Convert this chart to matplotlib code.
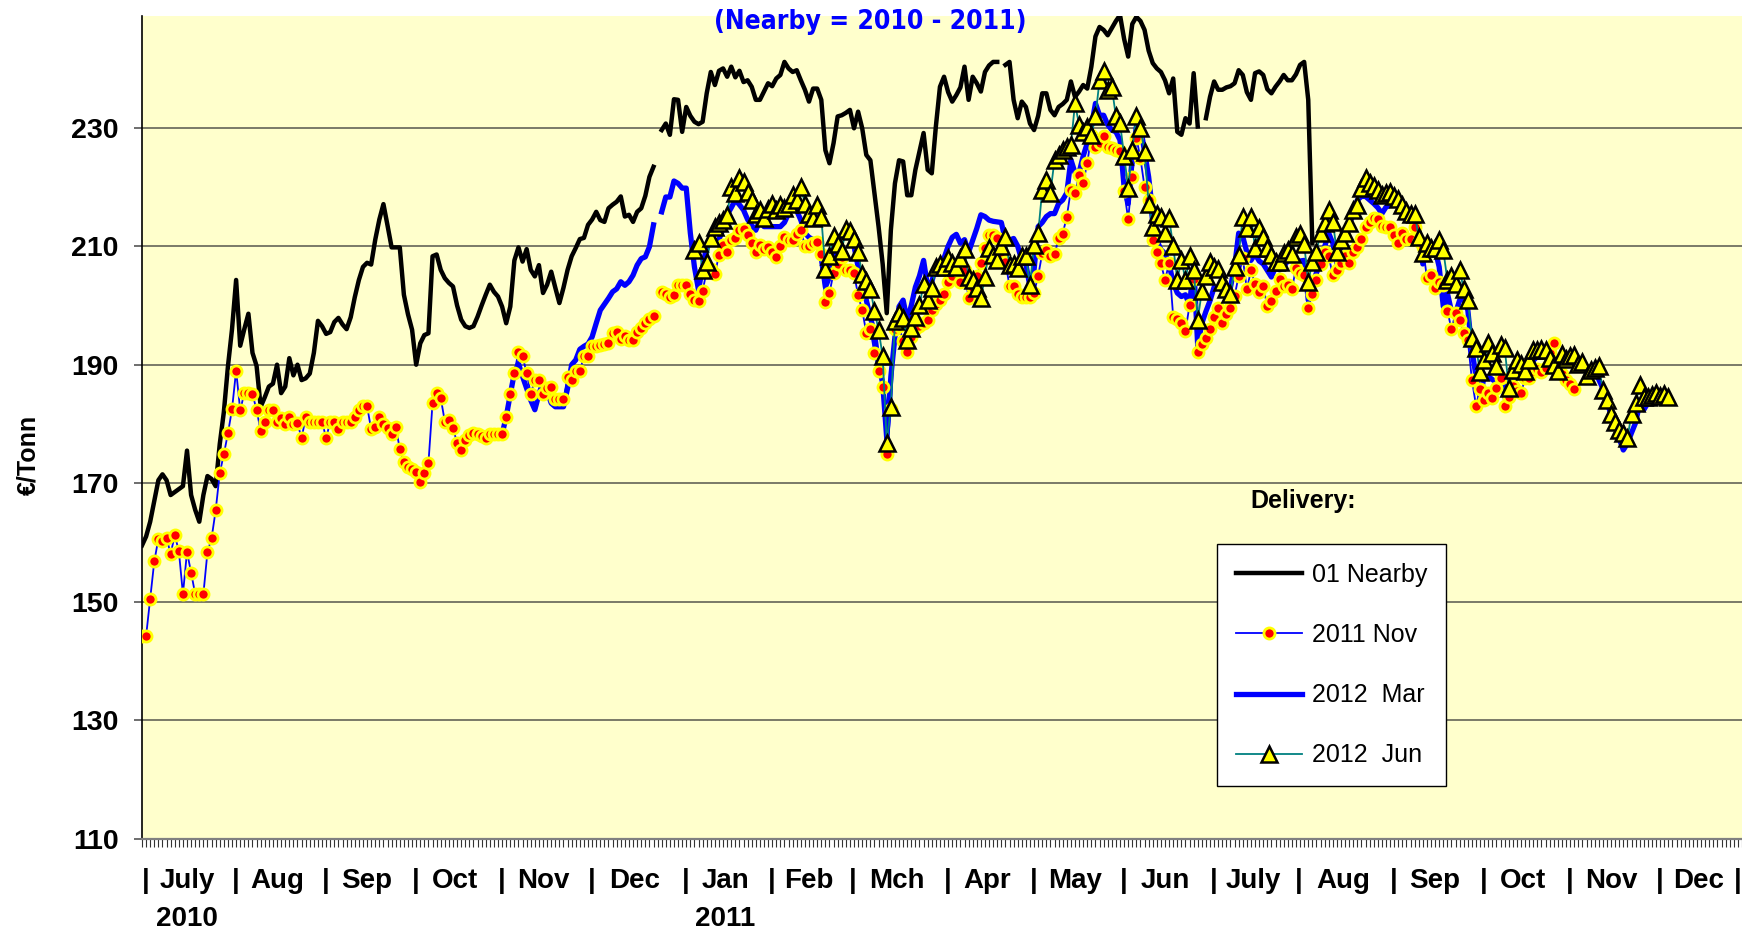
import numpy as np
import pandas as pd
import matplotlib
matplotlib.use('Agg')
import matplotlib.pyplot as plt
from matplotlib.lines import Line2D
from matplotlib.transforms import blended_transform_factory

nan = np.nan

# ---------------- data ----------------
calendar_start = '2010-07-01'
calendar_end = '2011-12-30'

nearby_start = '2010-07-01'
nearby = [
    159.5, 161, 163.5, 167, 170.5, 171.5, 170.5, 168, 168.5, 169, 169.5, 175.5, 168, 165.5, 163.5, 168, 171.2, 170.7, 169.5, 176.6, 182, 189.7,
    196, 204.3, 193.2, 196, 198.6, 192, 189.8, 182.9, 184.5, 186.3, 186.8, 190, 185.2, 186.3, 191.1, 188.2, 190, 187.4, 187.7, 188.5, 192, 197.4,
    196.5, 195.2, 195.5, 197.2, 197.9, 196.8, 196, 198, 201.4, 204.3, 206.5, 207.2, 206.9, 211.1, 214.5, 217.1, 213.5, 209.8, 209.8, 209.8, 201.8, 198.5,
    195.9, 190, 193.6, 195, 195.3, 208.3, 208.6, 206, 204.6, 203.8, 203.2, 200, 197.6, 196.5, 196.2, 196.5, 198.1, 200, 201.8, 203.5, 202.3,
    201.5, 199.8, 197, 199.8, 207.6, 209.8, 207.4, 209.5, 206, 204.9, 206.8, 202.1, 203.5, 205.7, 203, 200.4, 203, 206, 208.3, 209.7, 211.2, 211.4,
    213.6, 214.5, 215.8, 214.4, 214.1, 216.4, 217, 217.5, 218.4, 215, 215.3, 214.1, 215.8, 216.4, 218.5, 221.7, 223.4, nan, 229.6, 230.7, 228.8, 234.8, 234.7,
    229.3, 233.5, 232, 231, 230.6, 231, 235.8, 239.4, 237.2, 239.6, 240, 238.6, 240.3, 238.5, 239.6, 237.7, 238, 236.9, 234.7, 234.7, 236.1,
    237.5, 237, 238.3, 238.9, 241.1, 240, 239.4, 239.7, 238, 236.4, 234.4, 236.6, 236.6, 234.7, 226.2, 224, 227.4, 231.9, 232.1, 232.5,
    233, 229.9, 232.7, 229.9, 225.4, 224.5, 218.9, 213.3, 207, 198.7, 212.7, 220.6, 224.5, 224.3, 218.6, 218.6, 222.9, 226, 229.1, 222.9, 222.3, 230.2, 236.9,
    238.6, 236, 234.4, 235.5, 236.8, 240.3, 234.7, 238.6, 237.5, 236.1, 239.4, 240.5, 241.1, 241.1, nan, 240.6, 241.1, 234.7, 231.6, 234.4, 233.5,
    230.7, 229.6, 232, 235.8, 235.8, 233, 232.1, 233.5, 234, 234.7, 237.8, 235.2, 236.1, 237.2, 236.6, 240.3, 245.4, 247, 246.5, 245.6, 246.8, 248,
    249, 245, 242, 247.5, 248.7, 248, 246.5, 243, 240.9, 240, 239.4, 238, 235.8, 238.3, 229.3, 228.8, 231.6, 230.7, 239.2, 230.2, nan, 231.6,
    235.2, 237.8, 236.4, 236.4, 236.8, 237, 237.5, 239.7, 238.9, 236, 234.7, 239.2, 239.5, 238.9, 236.5, 235.8, 236.9, 237.8, 238.9, 238, 238,
    239, 240.6, 241.1, 234.7, 210.5,
]

nov11_start = '2010-07-01'
nov11 = [
    144.2, 144.2, 150.5, 156.8, 160.6, 160.3, 160.7, 158.1, 161.2, 158.6, 151.3, 158.4, 154.9, 151.3, 151.3, 151.3, 158.4, 160.7, 165.4, 171.7, 174.9, 178.4,
    182.5, 189, 182.3, 185.2, 185.2, 185, 182.4, 178.8, 180.3, 182.3, 182.3, 180.3, 181, 180, 181.1, 180, 180.1, 177.6, 181.1, 180.4, 180.4, 180.4,
    180.4, 177.6, 180.4, 180.4, 179.1, 180.3, 180.4, 180.4, 181.1, 182.3, 183, 183, 179.1, 179.5, 181.1, 180, 179.3, 178.3, 179.5, 175.8, 173.5, 172.8,
    172.4, 171.9, 170.2, 171.8, 173.4, 183.5, 185.2, 184.4, 180.4, 180.6, 179.3, 176.8, 175.6, 177.3, 178.2, 178.5, 178.3, 178, 177.6, 178.3, 178.3,
    178.3, 178.3, 181.2, 185, 188.6, 192.2, 191.4, 188.6, 185.1, 187.4, 187.5, 185.1, 186.1, 186.2, 184.2, 184.2, 184.2, 187.9, 187.4, 188.9, 189, 191.4,
    191.4, 193.1, 193.2, 193.4, 193.5, 193.6, 195.4, 195.5, 194.3, 194.8, 194.2, 194.2, 195.6, 196.2, 197, 197.7, 198.2, nan, 202.3, 201.9, 201.5, 201.7, 203.5,
    203.5, 203.5, 202, 200.9, 200.8, 202.4, 205.9, 206.2, 205.3, 208.5, 210.2, 209.1, 211, 211.4, 212.8, 212.9, 211.9, 210.5, 209, 210.2, 209.5,
    209.8, 209, 208.2, 210, 211.5, 211, 211.1, 212, 212.8, 210, 210, 210.5, 210.7, 208.6, 200.5, 202.1, 205.5, 207, 208.2, 206,
    206, 205.4, 201.7, 199.2, 195.4, 196, 191.9, 189, 186.3, 174.9, 182.5, 196, 196.5, 194, 192.2, 194.7, 196, 196.5, 197, 197.6, 199.2, 200.3, 201,
    202, 204, 205, 206, 204, 206, 201.2, 203, 205, 207.1, 209.7, 211.9, 211.9, 211.3, 209, 207.4, 203.2, 203.2, 202, 201.5, 201.5,
    201.5, 202.1, 205, 208.8, 209.3, 208.3, 208.6, 211.3, 212.1, 215, 219.5, 218.9, 222, 220.7, 224, 228.8, 226.8, 227.5, 228.6, 226.8, 226.5, 226.2,
    226, 219.3, 214.6, 221.7, 228.3, 224.8, 220, 217.8, 211.1, 209.1, 207.1, 204.3, 207.1, 198.1, 197.7, 197, 195.7, 200.1, 204.4, 192.2, 193.5, 194.5,
    196, 198.1, 199.6, 197, 198.5, 199.6, 201.6, 205, 208, 202.7, 205.9, 203.6, 202.2, 203.2, 199.9, 200.8, 202.4, 204.5, 203.3, 203.5, 202.7,
    206.3, 205.5, 205.1, 199.5, 202, 204.3, 207, 209, 208.3, 205.1, 206, 207.1, 208.3, 207.1, 209, 209.9, 211.2, 213.3, 214, 214.7, 214.6, 213.4, 213.3,
    213.3, 211.9, 210.5, 212.2, 211.2, 211.2, 213.3, 210.8, 209.8, 204.7, 205.1, 203, 203.9, 203.4, 199.1, 196, 198.7, 197.5, 195.4, 194.1, 187.4, 183.1,
    185.9, 184, 185.2, 184.3, 186, 187.7, 183.1, 184.5, 186.4, 185.5, 185.2, 187.7, 187.7, 189, 189.3, 188.7, 189.5, 192, 193.7, 190, 188.5,
    187.5, 186.7, 185.9,
]

mar12_start = '2010-11-01'
mar12 = [
    178.3, 178.3, 181.2, 185, 188.6, 190.2, 188, 186, 184, 182.4, 185, 187.2, 185.5, 183.5, 182.9, 182.9, 182.9, 186, 190, 190.8, 192.6, 193.1,
    193.5, 194.7, 197, 199.2, 200.2, 201.2, 202.3, 202.8, 204, 203.4, 204, 205.1, 206.8, 207.9, 208.2, 209.9, 213.6, nan, 215.8, 218.3, 218.3, 221, 220.6,
    219.8, 219.8, 212.2, 206.5, 202.6, 206.5, 210, 210.5, 210.8, 211.1, 213, 215.3, 216.5, 217.8, 217, 216.1, 214.5, 213.5, 212.7, 214.4, 213.3,
    213.3, 213.3, 213.3, 213.3, 214, 215.5, 216.6, 216, 214.4, 212.2, 211.5, 211.1, 211, 208, 203.1, 204.8, 208, 211.1, 212, 212.7,
    212.2, 210, 206.5, 204, 200.9, 198, 195.3, 190, 186.9, 177.5, 188, 194.7, 199.8, 200.9, 197.5, 200, 203.1, 205, 207.6, 203.1, 204, 206.5, 207,
    208, 210, 211.5, 212, 210.5, 211.1, 209, 211, 213, 215.3, 215, 214.4, 214.2, 214.1, 214, 211, 211, 211.3, 210, 207.6, 207,
    203.1, 206, 213.3, 214, 215, 215.5, 215.5, 217.2, 217.8, 219, 224.6, 222.4, 222.4, 225.2, 227.4, 230.2, 234.1, 232.1, 232.1, 230.5, 229.6, 229.3,
    227.9, 220, 217.2, 225, 230.2, 230.2, 226, 221.7, 215.5, 211, 209.4, 208.8, 207, 203.8, 202.1, 201.5, 201.8, 200, 207, 193, 197, 199,
    200.8, 203.1, 203, 202.5, 202.8, 203.1, 206.5, 212.2, 211.6, 209, 207.6, 208.7, 207.5, 207, 205.9, 204.8, 206.5, 206, 206.5, 207.6, 207.6,
    207.6, 207.5, 207.6, 200.9, 203.6, 205.5, 207.6, 209.9, 212.2, 210.5, 207, 209.9, 212.2, 213.5, 215.5, 217.8, 218.4, 218.4, 217.8, 217.2, 216.5, 215.5, 216.6,
    216.9, 217.2, 217.2, 217, 216.5, 216, 215, 213.3, 207, 208.8, 209, 209.4, 206.5, 199.8, 202.1, 199, 198.7, 200.9, 201, 199.2, 192.5, 188,
    184.6, 188, 188, 187.5, 187, 188, 186.1, 184.8, 187, 188, 188, 188.5, 188, 190.7, 191.4, 191.9, 191.9, 191.5, 191, 190, 190,
    190, 190.5, 191, 190.5, 189.5, 189.3, 188.2, 189.3, 187.5, 186, 184.1, 181.3, 179.6, 177.5, 175.6, 176.7, 178.5, 180.2, 183.5, 182.4, 183.5, 183.5,
    183.5, 184, 183.6, 183.8,
]

jun12_start = '2011-01-06'
jun12 = [
    209.4, 210.5, 206, 207.4, 211.3, 213.3, 213.9, 214.5, 215.3, 220, 218.9, 221.5, 220.9, 219.2, 217.8, 215.5, 216.1, 214.7,
    216.3, 217.2, 216.1, 217, 216.5, 217.2, 218.7, 217.8, 220, 217.2, 215.5, 214.7, 216.9, 214.9, 206.1, 208.3, 211.7, 210.4, 209.2, 212.9,
    212.6, 211.2, 209, 205.3, 204.2, 202.8, 199, 195.9, 191.4, 176.8, 182.8, 197.3, 198.7, 197.9, 194.2, 196.2, 198, 200, 203.7, 200.9, 203, 206.5, 207,
    206.5, 208, 207.1, 206.5, 208, 209.5, 204.8, 204.3, 203, 201.2, 204.8, 209.7, 208.5, 207.7, 210, 211.6, 206.8, 207, 206.3, 208.3, 208.3,
    203.5, 210.2, 212.2, 219.5, 221.2, 219, 224.6, 225.4, 226.3, 226.8, 227.1, 234.1, 230.5, 229.3, 230.2, 228.8, 231.9, 238, 239.6, 236.3, 236.8, 231.9,
    230.8, 225.3, 219.8, 226.3, 231.9, 229.9, 225.9, 217.2, 213.3, 215.5, 215, 212.2, 214.7, 210, 204.3, 207.7, 204.3, 208.3, 206, 197.6, 202.4, 205,
    207.4, 206.5, 206.2, 204, 202.8, 202, 206.5, 208.5, 215, 213.1, 215, 209.7, 213, 211.5, 209.7, 208.5, 207.4, 207.4, 208.8, 209.4, 208.7,
    211.5, 212, 210.4, 203.9, 207.4, 209.1, 212.2, 213.9, 216.1, 214.1, 209.1, 211.1, 212.2, 213.9, 216.1, 217, 219.8, 221.5, 220.7, 220.1, 219.5, 218.7, 218.9,
    219.2, 218.4, 218, 217, 216, 215.5, 215.5, 211.5, 208.8, 210.5, 209.7, 209.7, 211, 209.3, 204.3, 204.9, 203.7, 206, 202.7, 200.9, 194.5, 192.9,
    188.8, 190.8, 193.7, 192, 189.8, 193.4, 192.9, 186.1, 189.1, 190.8, 190.2, 189, 190.8, 192.5, 192.5, 192.6, 192.5, 191.1, 190, 189, 191.8,
    190.9, 191.4, 191.7, 190.2, 190.5, 188.1, 189.1, 189.5, 189.7, 185.8, 184, 181.6, 180.3, 179, 178.5, 177.7, 181.6, 183.5, 186.6, 184.6, 184.6, 184.9,
    185.2, 184.8, 185, 184.5,
]

series_labels = ['01 Nearby', '2011 Nov', '2012  Mar', '2012  Jun']
month_names = ['July', 'Aug', 'Sep', 'Oct', 'Nov', 'Dec', 'Jan', 'Feb', 'Mch', 'Apr',
               'May', 'Jun', 'July', 'Aug', 'Sep', 'Oct', 'Nov', 'Dec']
year_labels = ['2010', '2011']
year_months = [0, 6]
y_ticks = [110, 130, 150, 170, 190, 210, 230]
y_range = (110, 248.85)

# ---------------- figure ----------------
plt.rcParams['font.family'] = ['Liberation Sans', 'DejaVu Sans']

W, H = 1742, 933
fig = plt.figure(figsize=(W / 100, H / 100), dpi=100)
ax = fig.add_axes([142 / W, (H - 838.7) / H, (W - 142) / W, (838.7 - 16) / H])
ax.set_facecolor('#FFFFCC')

days = pd.bdate_range(calendar_start, calendar_end)
index_of = {d: i for i, d in enumerate(days)}


def xs(start, vals):
    i0 = index_of[pd.Timestamp(start)]
    return np.arange(i0, i0 + len(vals))


BLUE = '#0000FF'
TEAL = '#008080'
RED_STYLE = dict(marker='o', ms=8, mfc='#FF0000', mec='#FFFF00', mew=2.0)
TRI_STYLE = dict(marker='^', ms=11, mfc='#FFFF00', mec='black', mew=1.8)

ax.plot(xs(nearby_start, nearby), nearby, color='black', lw=3.2, zorder=3)
ax.plot(xs(mar12_start, mar12), mar12, color=BLUE, lw=3.8, zorder=4)
ax.plot(xs(nov11_start, nov11), nov11, color=BLUE, lw=1.3, zorder=5, **RED_STYLE)
ax.plot(xs(jun12_start, jun12), jun12, color=TEAL, lw=1.3, zorder=6, **TRI_STYLE)

ax.set_xlim(0, len(days) - 1)
ax.set_ylim(*y_range)

# grid
for yv in y_ticks[1:]:
    ax.axhline(yv, color='#6f6f60', lw=1.3, zorder=1)

for s in ['top', 'right']:
    ax.spines[s].set_visible(False)
ax.spines['left'].set_color('black')
ax.spines['left'].set_linewidth(1.2)
ax.spines['bottom'].set_color('#808080')
ax.spines['bottom'].set_linewidth(1.6)

ax.set_yticks(y_ticks)
ax.set_yticklabels([str(v) for v in y_ticks], fontsize=20.5, fontweight='bold')
ax.tick_params(axis='y', direction='out', length=6, width=1.2, color='#555555', pad=11)

ax.set_xticks([])
ax.set_xticks(np.arange(len(days)), minor=True)
ax.tick_params(axis='x', which='minor', direction='out', length=6, width=0.8, color='#333333')

# month labels with separators
months = days.to_period('M')
month_starts = [int(np.argmax(months == p)) for p in months.unique()]
bounds = month_starts + [len(days) - 1]
tr = blended_transform_factory(ax.transData, ax.transAxes)
y_lab = -0.052
for k, name in enumerate(month_names):
    ax.text(bounds[k] + 0.8, y_lab, '|', transform=tr, ha='center', va='center',
            fontsize=20, fontweight='bold')
    ax.text((bounds[k] + bounds[k + 1]) / 2, y_lab, name, transform=tr,
            ha='center', va='center', fontsize=20, fontweight='bold')
ax.text(bounds[-1] - 1, y_lab, '|', transform=tr, ha='center', va='center',
        fontsize=20, fontweight='bold', clip_on=False)
for lab, m in zip(year_labels, year_months):
    ax.text((bounds[m] + bounds[m + 1]) / 2, -0.097, lab, transform=tr,
            ha='center', va='center', fontsize=20, fontweight='bold')

# y label
fig.text(28 / W, (H - 455) / H, '€/Tonn', rotation=90, ha='center', va='center',
         fontsize=18, fontweight='bold')

# title (visible second line)
fig.text(870 / W, (H - 22) / H, '(Nearby = 2010 - 2011)', ha='center', va='center',
         fontsize=19, fontweight='bold', color=BLUE, family='DejaVu Sans',
         fontstretch='condensed')

# legend
fig.text(1303 / W, (H - 501) / H, 'Delivery:', ha='center', va='center',
         fontsize=18, fontweight='bold')
handles = [
    Line2D([], [], color='black', lw=3.2),
    Line2D([], [], color=BLUE, lw=1.3, **RED_STYLE),
    Line2D([], [], color=BLUE, lw=3.8),
    Line2D([], [], color=TEAL, lw=1.3, **TRI_STYLE),
]
leg = ax.legend(handles, series_labels, loc='upper left',
                bbox_to_anchor=(1217 / W, (H - 544) / H), bbox_transform=fig.transFigure,
                borderaxespad=0, fontsize=18, handlelength=2.65, handletextpad=0.4,
                labelspacing=1.45, borderpad=0.75, fancybox=False, framealpha=1,
                edgecolor='black', numpoints=1)
leg.get_frame().set_linewidth(1.0)
leg.set_zorder(10)

fig.savefig('out.png', dpi=100)
